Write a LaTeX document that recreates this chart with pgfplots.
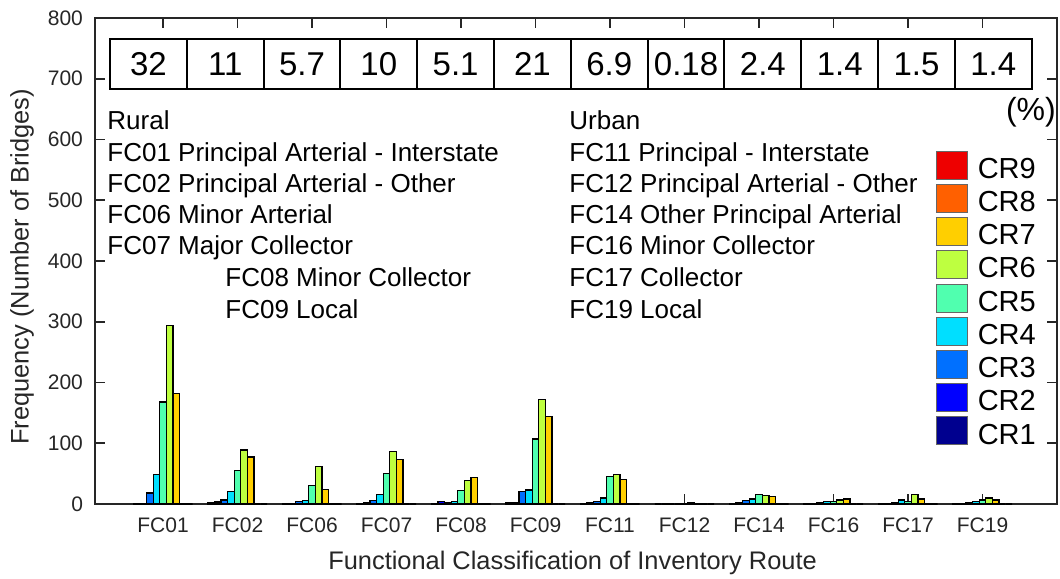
\documentclass[border=0pt]{standalone}
\usepackage{fontspec}
\setmainfont{Liberation Sans}
\usepackage{pgfplots}
\usepackage{pgfplotstable}
\pgfplotsset{compat=1.18}

\definecolor{cr1}{RGB}{0,0,143}
\definecolor{cr2}{RGB}{0,0,255}
\definecolor{cr3}{RGB}{0,112,255}
\definecolor{cr4}{RGB}{0,223,255}
\definecolor{cr5}{RGB}{80,255,175}
\definecolor{cr6}{RGB}{190,255,64}
\definecolor{cr7}{RGB}{255,207,0}
\definecolor{cr8}{RGB}{255,96,0}
\definecolor{cr9}{RGB}{238,0,0}

% number of bridges per functional class (x) and condition rating
\pgfplotstableread{
x  cr1 cr2 cr3 cr4 cr5 cr6 cr7 cr8 cr9
1  1   1   18  48  168 294 182 0 0
2  1.6 3.3 6.6 20  54.5 89 77.5 0 0
3  1   1   3.8 5.5 30  62  24  0 0
4  1   2.2 5.5 16  50  86  73  0 0
5  1   3.8 1.6 3.5 22  38.5 44 0 0
6  1.6 2.7 21  23  107 172 144 0 0
7  1   2.2 4.4 9.9 45.5 49 40  0 0
8  0   0   0   0   1   2   1   0 0
9  1   2.7 5.5 8.2 15.4 13.5 12 0 0
10 1   1   2   3.8 4.4 6.6 8.2 0 0
11 1   1   2.5 6.6 4.4 15.4 8.2 0 0
12 1   1   2   4.4 6.6 10  6.6 0 0
}\bridges

\pgfplotsset{cr/.style={fill=#1, draw=black, line width=0.6pt,
    legend image code/.code={\draw[fill=#1, draw=black!60, line width=0.4pt] (0pt,-4.7pt) rectangle (15.5pt,9.3pt);}}}

\begin{document}
\begin{tikzpicture}
\begin{axis}[name=ax, scale only axis, width=481pt, height=243pt,
    xmin=0.087, xmax=13, ymin=0, ymax=800,
    ybar=0pt, bar width=3.3pt,
    xtick={1,...,12},
    xticklabels={FC01,FC02,FC06,FC07,FC08,FC09,FC11,FC12,FC14,FC16,FC17,FC19},
    ytick={0,100,...,800},
    tick align=inside, tick pos=both, major tick length=5pt,
    axis line style={line width=1pt, black!85},
    every tick/.style={line width=0.8pt, black!85},
    /pgf/number format/assume math mode=true,
    tick label style={font=\fontsize{10.5}{12}\selectfont, text=black!85},
    xticklabel style={anchor=base, yshift=-14.5pt},
    yticklabel style={anchor=east, xshift=-2.5pt},
    xlabel={Functional Classification of Inventory Route},
    ylabel={Frequency (Number of Bridges)},
    label style={font=\fontsize{12.7}{15}\selectfont, text=black!85},
    xlabel style={at={(axis description cs:0.4964,-0.1214)}, anchor=center},
    ylabel style={at={(axis description cs:-0.0759,0.488)}, anchor=center},
    reverse legend, legend cell align=left,
    legend style={draw=none, fill=none, at={(rel axis cs:0.8742,0.727)}, anchor=north west,
        inner sep=0pt, outer sep=0pt, row sep=0.8pt, column sep=4.5pt,
        nodes={inner sep=0.5pt}, font=\fontsize{14.5}{16}\selectfont},
    clip=false]
\addplot[cr=cr1] table[x=x, y=cr1] {\bridges}; \addlegendentry{CR1}
\addplot[cr=cr2] table[x=x, y=cr2] {\bridges}; \addlegendentry{CR2}
\addplot[cr=cr3] table[x=x, y=cr3] {\bridges}; \addlegendentry{CR3}
\addplot[cr=cr4] table[x=x, y=cr4] {\bridges}; \addlegendentry{CR4}
\addplot[cr=cr5] table[x=x, y=cr5] {\bridges}; \addlegendentry{CR5}
\addplot[cr=cr6] table[x=x, y=cr6] {\bridges}; \addlegendentry{CR6}
\addplot[cr=cr7] table[x=x, y=cr7] {\bridges}; \addlegendentry{CR7}
\addplot[cr=cr8] table[x=x, y=cr8] {\bridges}; \addlegendentry{CR8}
\addplot[cr=cr9] table[x=x, y=cr9] {\bridges}; \addlegendentry{CR9}

% share of bridges per class (%)
\begin{scope}[every node/.style={draw, line width=1pt, inner sep=0pt,
    minimum width=38.4pt, minimum height=25.15pt, font=\fontsize{16.5}{18}\selectfont}]
\node at (axis cs:0.8041,724) {32};
\node at (axis cs:1.8351,724) {11};
\node at (axis cs:2.8661,724) {5.7};
\node at (axis cs:3.8971,724) {10};
\node at (axis cs:4.9281,724) {5.1};
\node at (axis cs:5.9591,724) {21};
\node at (axis cs:6.9901,724) {6.9};
\node at (axis cs:8.0211,724) {0.18};
\node at (axis cs:9.0521,724) {2.4};
\node at (axis cs:10.0831,724) {1.4};
\node at (axis cs:11.1141,724) {1.5};
\node at (axis cs:12.1451,724) {1.4};
\end{scope}
\node[font=\fontsize{16}{18}\selectfont] at (axis cs:12.65,645) {(\%)};

\begin{scope}[every node/.style={anchor=base west, inner sep=0pt, font=\fontsize{13}{15}\selectfont}]
\node at (axis cs:0.2483,616.8) {Rural};
\node at (axis cs:0.2483,564.1) {FC01 Principal Arterial - Interstate};
\node at (axis cs:0.2483,513.1) {FC02 Principal Arterial - Other};
\node at (axis cs:0.2483,462.1) {FC06 Minor Arterial};
\node at (axis cs:0.2483,411.0) {FC07 Major Collector};
\node at (axis cs:1.832,358.4) {FC08 Minor Collector};
\node at (axis cs:1.832,305.7) {FC09 Local};
\node at (axis cs:6.450,616.8) {Urban};
\node at (axis cs:6.450,564.1) {FC11 Principal - Interstate};
\node at (axis cs:6.450,513.1) {FC12 Principal Arterial - Other};
\node at (axis cs:6.450,462.1) {FC14 Other Principal Arterial};
\node at (axis cs:6.450,411.0) {FC16 Minor Collector};
\node at (axis cs:6.450,358.4) {FC17 Collector};
\node at (axis cs:6.450,305.7) {FC19 Local};
\end{scope}
\end{axis}
\pgfresetboundingbox
\path ([shift={(-47.5pt,-37.5pt)}]ax.south west) rectangle ([shift={(1.5pt,9pt)}]ax.north east);
\end{tikzpicture}
\end{document}
